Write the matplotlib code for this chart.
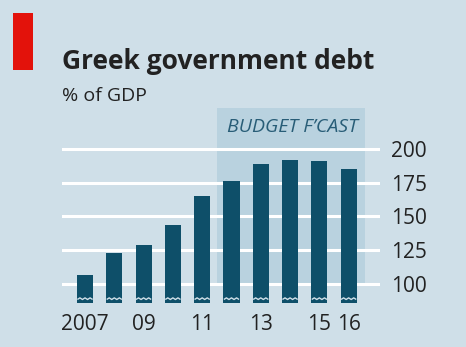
import matplotlib.pyplot as plt
import numpy as np
from matplotlib.patches import Rectangle

years = [2007, 2008, 2009, 2010, 2011, 2012, 2013, 2014, 2015, 2016]
debt = [107, 123, 129, 144, 165, 176, 189, 192, 191, 185]
tick_years = [2007, 2009, 2011, 2013, 2015, 2016]
tick_labels = ["2007", "09", "11", "13", "15", "16"]
y_ticks = [100, 125, 150, 175, 200]
forecast_start = 2011.5
forecast_end = 2016.56

BG = "#cfdfe8"
SHADE = "#b9d2df"
BAR = "#0e4f69"
TEXT = "#222222"

plt.rcParams["font.family"] = ["Open Sans", "DejaVu Sans"]

fig = plt.figure(figsize=(4.66, 3.47), dpi=100, facecolor=BG)
ax = fig.add_axes([62 / 466, 1 - 303 / 347, 318 / 466, 195 / 347])
ax.set_facecolor(BG)
ymin, ymax = 85.9, 230.4
ax.set_xlim(2006.215, 2017.07)
ax.set_ylim(ymin, ymax)

# forecast shading, from the 100 line to the top
ax.add_patch(Rectangle((forecast_start, 100), forecast_end - forecast_start, ymax - 100,
                       facecolor=SHADE, edgecolor="none", zorder=0))
ax.text((forecast_start + forecast_end) / 2 + 0.05, 216.5, "BUDGET F\u2019CAST", ha="center", va="center",
        fontsize=14, style="italic", color="#285d77", zorder=3)

for yv in y_ticks:
    ax.axhline(yv, color="white", lw=2.2, zorder=1)

ax.bar(years, np.array(debt) - ymin, width=0.55, bottom=ymin, color=BAR, zorder=2)

# small broken-axis notches at the bottom of each bar
for x in years:
    zx = np.linspace(x - 0.26, x + 0.26, 7)
    zy = 88.5 + np.array([0, 1, 0, 1, 0, 1, 0]) * 1.2
    ax.plot(zx, zy, color=BG, lw=1.0, zorder=3, solid_capstyle="butt")

for s in ax.spines.values():
    s.set_visible(False)
ax.set_xticks(tick_years)
ax.set_xticklabels(tick_labels)
ax.tick_params(axis="x", length=0, pad=8, labelsize=15, labelcolor=TEXT)
ax.yaxis.tick_right()
ax.set_yticks(y_ticks)
ax.tick_params(axis="y", length=0, pad=8, labelsize=15, labelcolor=TEXT)

fig.patches.append(Rectangle((13 / 466, 1 - 70 / 347), 20 / 466, 57 / 347,
                             transform=fig.transFigure, facecolor="#e3120b", edgecolor="none"))
fig.text(62 / 466, 1 - 69 / 347, "Greek government debt", fontsize=19, fontweight="bold",
         color=TEXT, ha="left", va="baseline")
fig.text(62 / 466, 1 - 101 / 347, "% of GDP", fontsize=14, color=TEXT, ha="left", va="baseline")

fig.savefig("out.png", dpi=100, facecolor=BG)
